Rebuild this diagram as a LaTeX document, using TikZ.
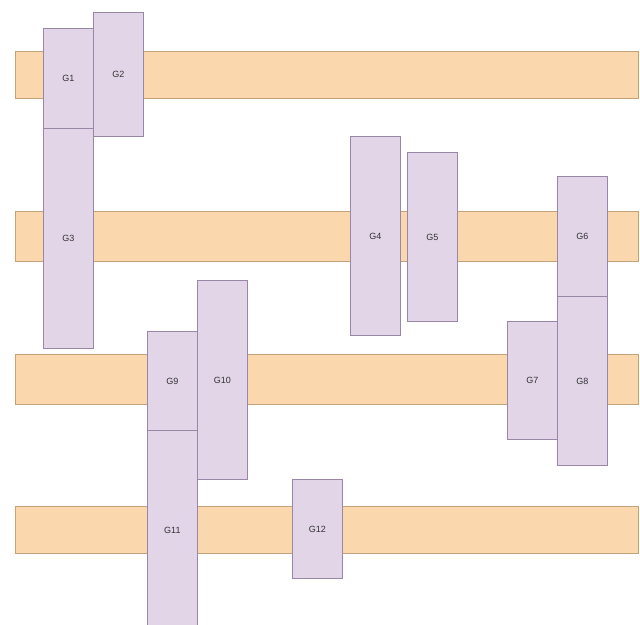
\documentclass[tikz,border=0pt]{standalone}
\usepackage{fontspec}
\setmainfont{Liberation Sans}
\usetikzlibrary{positioning}
\definecolor{barfill}{HTML}{FAD7AC}
\definecolor{barline}{HTML}{C4A27A}
\definecolor{gfill}{HTML}{E1D5E7}
\definecolor{gline}{HTML}{9A86A6}
\definecolor{glabel}{HTML}{333333}
\tikzset{
  bar/.style={draw=barline, fill=barfill, anchor=north west, inner sep=0pt, minimum width=623pt},
  gbox/.style={draw=gline, fill=gfill, anchor=north west, inner sep=0pt, text=glabel,
    font=\fontsize{9}{10}\selectfont, minimum width=50pt},
}

\begin{document}
\begin{tikzpicture}[x=1pt, y=-1pt, line width=0.8pt]
    \clip (0,0) rectangle (640,624);
    \fill[white] (0,0) rectangle (640,624);
    % tracks
    \node[bar, minimum height=47pt] (r1) at (15,51) {};
    \node[bar, minimum height=50pt] (r2) at (15,211) {};
    \node[bar, minimum height=50pt] (r3) at (15,354) {};
    \node[bar, minimum height=47pt] (r4) at (15,506) {};
    % blocks
    \node[gbox, minimum height=100pt] (g1) at (43,28) {G1};
    \node[gbox, minimum height=124pt] (g2) at (93,12) {G2};
    \node[gbox, minimum height=220pt] (g3) at (43,128) {G3};
    \node[gbox, minimum height=199pt] (g4) at (350,136) {G4};
    \node[gbox, minimum height=169pt] (g5) at (407,152) {G5};
    \node[gbox, minimum height=120pt] (g6) at (557,176) {G6};
    \node[gbox, minimum height=118pt] (g7) at (507,321) {G7};
    \node[gbox, minimum height=169pt] (g8) at (557,296) {G8};
    \node[gbox, minimum height=99pt]  (g9) at (147,331) {G9};
    \node[gbox, minimum height=199pt] (g10) at (197,280) {G10};
    \node[gbox, minimum height=200pt] (g11) at (147,430) {G11};
    \node[gbox, minimum height=99pt]  (g12) at (292,479) {G12};
  \end{tikzpicture}
\end{document}
